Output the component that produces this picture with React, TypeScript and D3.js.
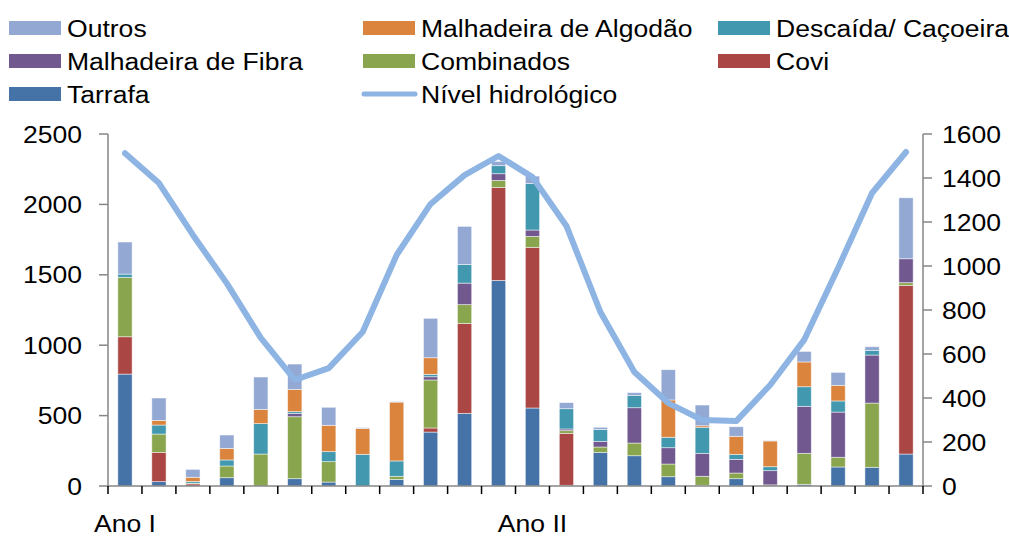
import React from "react";
import * as d3 from "d3";

const months: string[] = Array.from({ length: 24 }, (_, i) => `M${i + 1}`);
const xLabels: string[] = ["Ano I", "", "", "", "", "", "", "", "", "", "", "", "Ano II", "", "", "", "", "", "", "", "", "", "", ""];

const tarrafa = [795, 31, 0, 59, 0, 52, 28, 0, 47, 383, 516, 1460, 554, 5, 239, 215, 66, 5, 52, 0, 12, 135, 133, 227];
const covi = [265, 208, 15, 0, 0, 0, 0, 0, 0, 29, 639, 661, 1141, 369, 0, 0, 0, 0, 0, 0, 0, 0, 0, 1198];
const combinados = [422, 130, 5, 83, 227, 440, 145, 0, 22, 341, 133, 49, 78, 19, 38, 90, 90, 64, 40, 8, 220, 69, 456, 19];
const fibra = [0, 0, 0, 0, 0, 24, 0, 0, 0, 23, 153, 48, 45, 12, 40, 251, 116, 163, 97, 101, 334, 321, 341, 170];
const descaida = [23, 64, 12, 43, 216, 12, 71, 225, 109, 17, 133, 57, 331, 144, 85, 86, 74, 185, 36, 28, 139, 79, 33, 0];
const algodao = [0, 33, 30, 82, 101, 158, 187, 184, 418, 118, 0, 0, 0, 0, 0, 0, 265, 11, 128, 183, 176, 111, 0, 0];
const outros = [228, 159, 56, 95, 230, 180, 128, 5, 4, 280, 270, 30, 52, 43, 15, 21, 215, 147, 68, 3, 75, 92, 26, 433];
const nivel = [1513, 1377, 1141, 921, 673, 482, 536, 700, 1050, 1282, 1413, 1500, 1404, 1182, 791, 518, 377, 300, 295, 459, 664, 991, 1332, 1518];

const leftTicks = [0, 500, 1000, 1500, 2000, 2500];
const rightTicks = [0, 200, 400, 600, 800, 1000, 1200, 1400, 1600];

const seriesKeys = ["Tarrafa", "Covi", "Combinados", "Malhadeira de Fibra", "Descaída/ Caçoeira", "Malhadeira de Algodão", "Outros"];
const seriesValues = [tarrafa, covi, combinados, fibra, descaida, algodao, outros];
const colors: Record<string, string> = {
  "Tarrafa": "#4572A7",
  "Covi": "#AA4643",
  "Combinados": "#89A54E",
  "Malhadeira de Fibra": "#71588F",
  "Descaída/ Caçoeira": "#4198AF",
  "Malhadeira de Algodão": "#DB843D",
  "Outros": "#93A9D4",
};
const lineColor = "#8DB4E2";

const W = 1009, H = 536;
const X0 = 108, X1 = 923, Y0 = 486, Y1 = 134;
const FS = 23.5, SX = 1.13;
const FONT = "'Liberation Sans', Arial, sans-serif";

function T({ x, y, anchor = "start", children }: any) {
  return (
    <text transform={`translate(${x},${y}) scale(${SX},1)`} textAnchor={anchor} fontSize={FS} fontFamily={FONT} fill="#000">
      {children}
    </text>
  );
}

export default function App() {
  const table = months.map((m, i) => {
    const o: any = { m };
    seriesKeys.forEach((k, j) => (o[k] = seriesValues[j][i]));
    return o;
  });
  const stacked = d3.stack().keys(seriesKeys)(table as any);
  const x = d3.scaleBand<string>().domain(months).range([X0, X1]).paddingInner(0.58).paddingOuter(0.29);
  const step = x.step();
  const yL = d3.scaleLinear().domain([0, 2500]).range([Y0, Y1]);
  const yR = d3.scaleLinear().domain([0, 1600]).range([Y0, Y1]);
  const line = d3.line<number>().x((_, i) => (x(months[i]) as number) + x.bandwidth() / 2).y((d) => yR(d));

  const legend = [
    { k: "Outros", col: 0, row: 0 },
    { k: "Malhadeira de Algodão", col: 1, row: 0 },
    { k: "Descaída/ Caçoeira", col: 2, row: 0 },
    { k: "Malhadeira de Fibra", col: 0, row: 1 },
    { k: "Combinados", col: 1, row: 1 },
    { k: "Covi", col: 2, row: 1 },
    { k: "Tarrafa", col: 0, row: 2 },
    { k: "Nível hidrológico", col: 1, row: 2, line: true },
  ];
  const colX = [9, 363, 718];
  const rowY = [28, 61, 94];

  return (
    <svg width={W} height={H} style={{ position: "absolute", left: 0, top: 0, background: "#fff" }}>
      {stacked.map((s: any) => (
        <g key={s.key} fill={colors[s.key]}>
          {s.map((d: any, i: number) =>
            d[1] - d[0] > 0 ? (
              <rect
                key={i}
                x={x(months[i])}
                width={x.bandwidth()}
                y={yL(d[1])}
                height={yL(d[0]) - yL(d[1])}
                stroke="#ffffff"
                strokeOpacity={0.6}
                strokeWidth={0.8}
              />
            ) : null
          )}
        </g>
      ))}
      <line x1={X0} x2={X0} y1={Y1} y2={Y0} stroke="#868686" strokeWidth={1.5} />
      {leftTicks.map((t) => (
        <g key={t}>
          <line x1={X0 - 9} x2={X0} y1={yL(t)} y2={yL(t)} stroke="#868686" strokeWidth={1.5} />
          <T x={82} y={yL(t) + 8.5} anchor="end">{t}</T>
        </g>
      ))}
      <line x1={X1} x2={X1} y1={Y1} y2={Y0} stroke="#868686" strokeWidth={1.5} />
      {rightTicks.map((t) => (
        <g key={t}>
          <line x1={X1} x2={X1 + 9} y1={yR(t)} y2={yR(t)} stroke="#868686" strokeWidth={1.5} />
          <T x={942} y={yR(t) + 8.5}>{t}</T>
        </g>
      ))}
      <line x1={X0} x2={X1} y1={Y0} y2={Y0} stroke="#868686" strokeWidth={1.5} />
      {d3.range(months.length + 1).map((i) => (
        <line key={i} x1={X0 + i * step} x2={X0 + i * step} y1={Y0} y2={Y0 + 8} stroke="#000" strokeWidth={1.5} />
      ))}
      {xLabels.map((l, i) =>
        l ? (
          <T key={i} x={(x(months[i]) as number) + x.bandwidth() / 2} y={532} anchor="middle">{l}</T>
        ) : null
      )}
      <path d={line(nivel) || ""} fill="none" stroke={lineColor} strokeWidth={6} strokeLinejoin="round" strokeLinecap="round" />
      {legend.map((e) => {
        const lx = colX[e.col];
        const ly = rowY[e.row];
        return (
          <g key={e.k}>
            {e.line ? (
              <line x1={lx + 1} x2={lx + 52} y1={ly} y2={ly} stroke={lineColor} strokeWidth={5} strokeLinecap="round" />
            ) : (
              <rect x={lx} y={ly - 7} width={52} height={14} fill={colors[e.k]} />
            )}
            <T x={lx + 58} y={ly + 9}>{e.k}</T>
          </g>
        );
      })}
    </svg>
  );
}
